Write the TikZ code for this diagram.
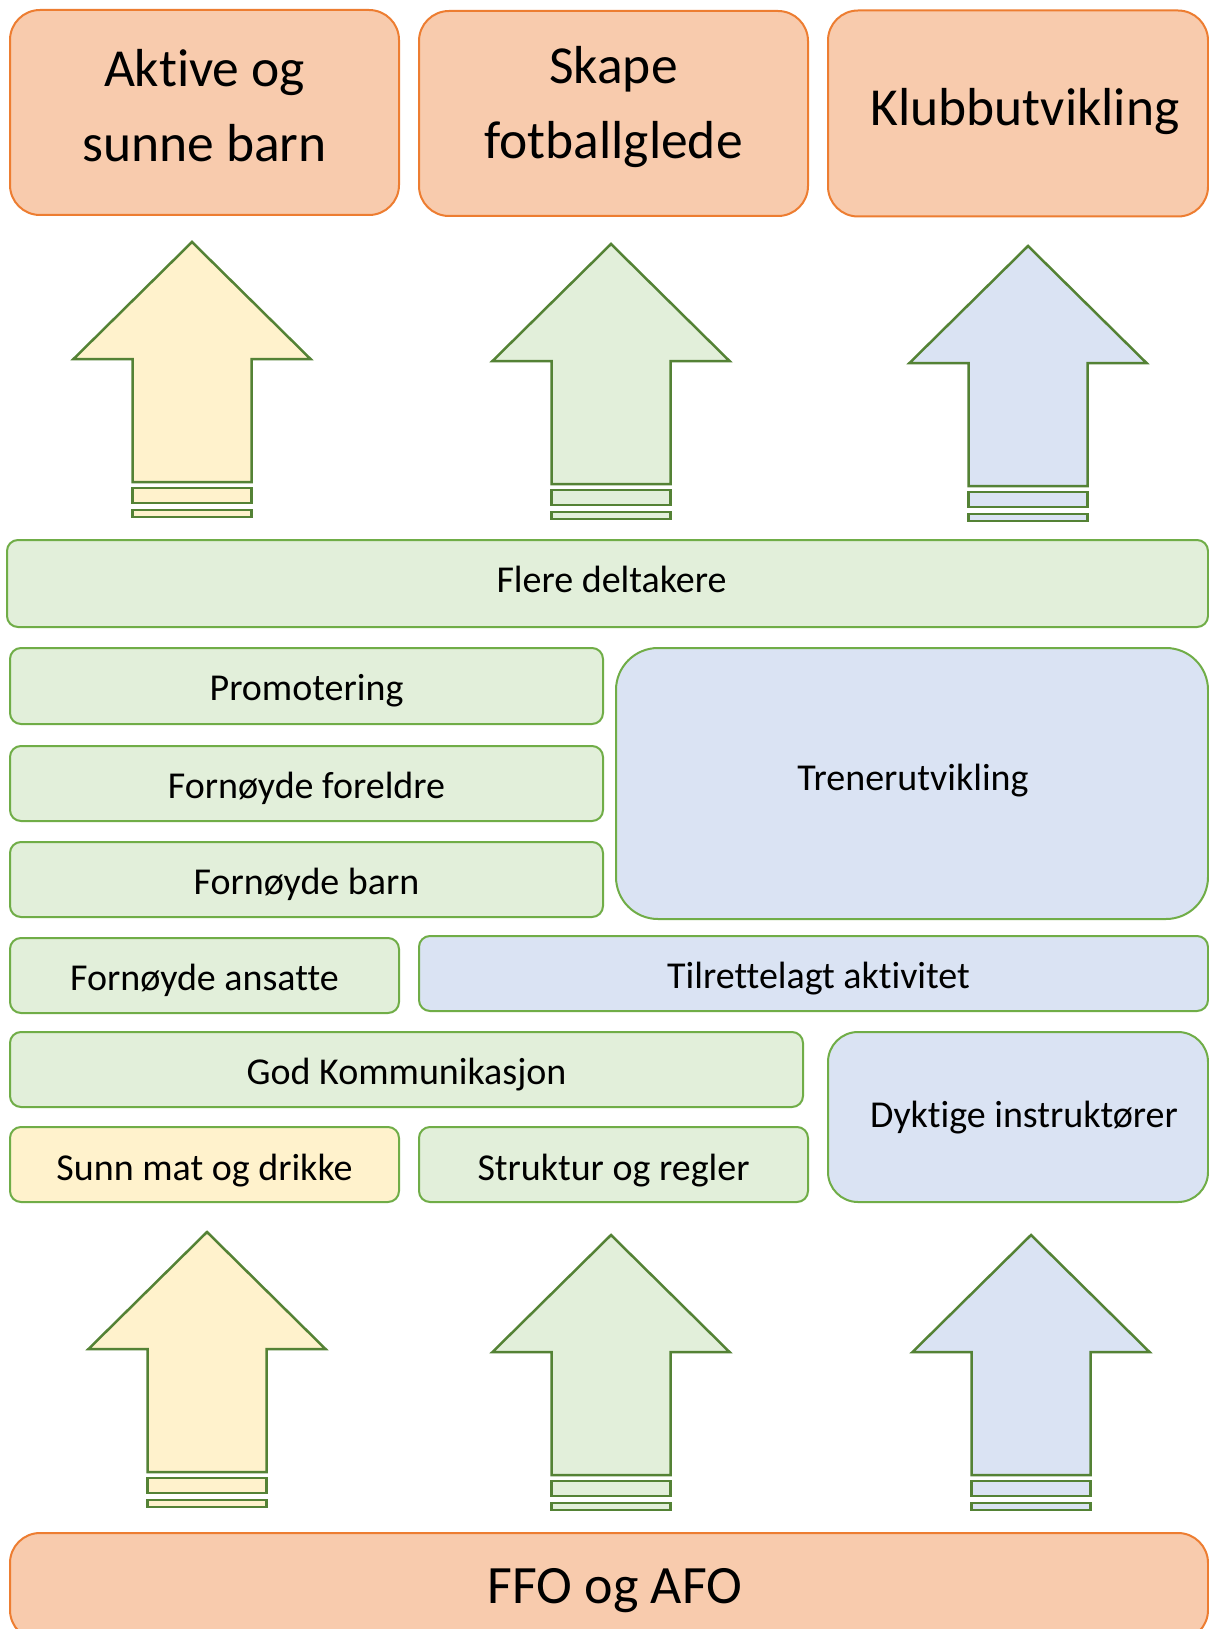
\documentclass[tikz,border=0pt]{standalone}
\usepackage{fontspec}
\setmainfont{Carlito}[Ligatures={NoCommon,NoContextual}]
\definecolor{orngfill}{HTML}{F8CBAD}
\definecolor{orngline}{HTML}{ED7D31}
\definecolor{grnfill}{HTML}{E2EFDA}
\definecolor{grnline}{HTML}{70AD47}
\definecolor{blufill}{HTML}{DAE3F3}
\definecolor{ylwfill}{HTML}{FFF2CC}
\definecolor{arrline}{HTML}{548235}
% move text glyphs by (dx,dy) while keeping the box size
\newcommand\tx[3]{\raisebox{#2}[\height][\depth]{\hspace*{#1}#3\hspace*{-#1}}}
\tikzset{
  bigtext/.style={font=\fontsize{53.5}{75}\selectfont},
  midtext/.style={font=\fontsize{38}{45}\selectfont},
  topbox/.style={draw=orngline, fill=orngfill, line width=2pt, rounded corners=30pt, inner sep=0pt, align=center, bigtext},
  gbox/.style={draw=grnline, fill=grnfill, line width=2pt, rounded corners=11pt, inner sep=0pt, align=center, midtext},
  bbox/.style={gbox, fill=blufill},
  ybox/.style={gbox, fill=ylwfill},
  uparr/.pic={
    \draw[draw=arrline, line width=2.5pt, fill=#1, line join=miter]
      (0,0) -- (118.5,117) -- (59.5,117) -- (59.5,240) -- (-59.5,240) -- (-59.5,117) -- (-118.5,117) -- cycle;
    \draw[draw=arrline, line width=2.5pt, fill=#1] (-59.5,246) rectangle (59.5,261);
    \draw[draw=arrline, line width=2.5pt, fill=#1] (-59.5,268) rectangle (59.5,275);
  }
}
\begin{document}
\begin{tikzpicture}[x=1pt, y=-1pt]
\useasboundingbox[fill=white] (0,0) rectangle (1209,1629);
% top goals
\node[topbox, minimum width=389pt, minimum height=205pt] (top1) at (204.5,112.5) {\tx{0pt}{6.5pt}{Aktive og}\\\tx{0pt}{6.5pt}{sunne barn}};
\node[topbox, minimum width=389pt, minimum height=205pt] (top2) at (613.5,113.5) {\tx{0pt}{6pt}{Skape}\\\tx{0pt}{6pt}{fotballglede}};
\node[topbox, minimum width=380pt, minimum height=206pt] (top3) at (1018,113.5) {\tx{7pt}{2pt}{Klubbutvikling}};
% upper arrows
\pic at (192,242) {uparr=ylwfill};
\pic at (611,244) {uparr=grnfill};
\pic at (1028,246) {uparr=blufill};
% middle blocks
\node[gbox, minimum width=1201pt, minimum height=87pt] (flere) at (607.5,583.5) {\tx{4pt}{4pt}{Flere deltakere}};
\node[gbox, minimum width=593pt, minimum height=76pt] (promo) at (306.5,686) {\tx{0pt}{-5pt}{Promotering}};
\node[gbox, minimum width=593pt, minimum height=75pt] (foreldre) at (306.5,783.5) {\tx{0pt}{-5pt}{Fornøyde foreldre}};
\node[gbox, minimum width=593pt, minimum height=75pt] (barn) at (306.5,879.5) {\tx{0pt}{-5pt}{Fornøyde barn}};
\node[bbox, rounded corners=42pt, minimum width=592pt, minimum height=271pt] (trener) at (912,783.5) {\tx{1pt}{3pt}{Trenerutvikling}};
\node[gbox, minimum width=389pt, minimum height=75pt] (ansatte) at (204.5,975.5) {\tx{0pt}{-5pt}{Fornøyde ansatte}};
\node[bbox, minimum width=789pt, minimum height=75pt] (tilrett) at (813.5,973.5) {\tx{5pt}{-5pt}{Tilrettelagt aktivitet}};
\node[gbox, minimum width=793pt, minimum height=75pt] (god) at (406.5,1069.5) {\tx{0pt}{-5pt}{God Kommunikasjon}};
\node[bbox, rounded corners=30pt, minimum width=380pt, minimum height=170pt] (dyktige) at (1018,1117) {\tx{6pt}{-1pt}{Dyktige instruktører}};
\node[ybox, minimum width=389pt, minimum height=75pt] (sunn) at (204.5,1164.5) {\tx{0pt}{-6pt}{Sunn mat og drikke}};
\node[gbox, minimum width=389pt, minimum height=75pt] (struktur) at (613.5,1164.5) {\tx{0pt}{-6pt}{Struktur og regler}};
% lower arrows
\pic at (207,1232) {uparr=ylwfill};
\pic at (611,1235) {uparr=grnfill};
\pic at (1031,1235) {uparr=blufill};
% base
\node[topbox, font=\fontsize{54}{75}\selectfont, minimum width=1198pt, minimum height=107pt] (ffo) at (609,1586.5) {\tx{6pt}{-4pt}{FFO og AFO}};
\end{tikzpicture}
\end{document}
